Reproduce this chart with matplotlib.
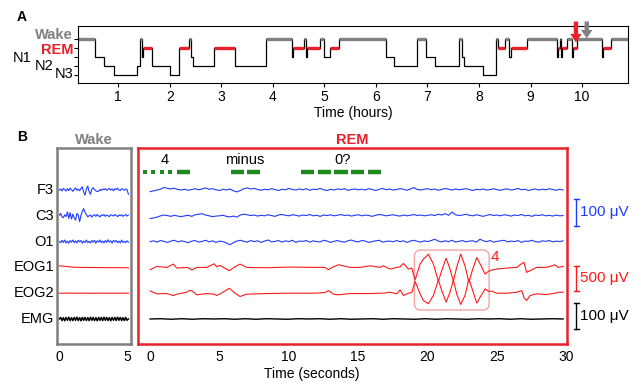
import numpy as np
import matplotlib.pyplot as plt
from matplotlib.patches import FancyBboxPatch, FancyArrow
from matplotlib.transforms import blended_transform_factory

plt.rcParams['font.family'] = ['Liberation Sans', 'DejaVu Sans']

GRAY = '#808080'
RED = '#e8212b'
BLUE = '#1f3cff'
TRACE_RED = '#ff1a1a'
GREEN = '#1e8a1e'

# ---- panel A : hypnogram (hours, stage starting at that time) ----
hyp_t = [0.22, 0.55, 0.73, 0.91, 1.36, 1.43, 1.46, 1.49, 1.65, 2.01, 2.18,
         2.38, 2.41, 2.45, 2.85, 3.27, 3.87, 4.37, 4.40, 4.61, 4.65, 4.67,
         4.91, 5.00, 5.11, 5.29, 6.20, 6.35, 6.79, 6.97, 7.15, 7.62, 7.67,
         7.71, 8.08, 8.33, 8.36, 8.51, 8.59, 8.62, 8.93, 9.52, 9.53, 9.57,
         9.59, 9.61, 9.70, 9.80, 9.82, 9.90, 10.38, 10.41, 10.57, 10.89]
hyp_stage = ['Wake', 'N1', 'N2', 'N3', 'N2', 'Wake', 'N1', 'REM', 'N2', 'N3',
             'REM', 'Wake', 'N1', 'N2', 'REM', 'N2', 'Wake', 'N1', 'REM',
             'Wake', 'N1', 'REM', 'Wake', 'N1', 'REM', 'Wake', 'N1', 'N2',
             'Wake', 'N1', 'N2', 'Wake', 'N1', 'N2', 'N3', 'Wake', 'REM',
             'Wake', 'N1', 'REM', 'Wake', 'N1', 'REM', 'Wake', 'N1', 'REM',
             'Wake', 'N1', 'REM', 'Wake', 'N1', 'REM', 'Wake']
stage_names = ['N3', 'N2', 'N1', 'REM', 'Wake']
hour_ticks = [1, 2, 3, 4, 5, 6, 7, 8, 9, 10]
arrow_hours = {'red': 9.88, 'gray': 10.09}

# ---- panel B : traces (uV) ----
f3_wake = [0, 4, -3, 6, 2, -4, 5, -2, 7, 1, -5, 3, 8, -1, 4, -3, 6, 12, -8,
           -19, 4, 15, -6, -16, 3, 9, 2, -3, -6, -4, 2, -2, 4, 1, 5, -1, 3,
           6, 0, 4, -3, 5, 2, 7, 0, -2, 5, 3, -1, 4, 2, -16]
c3_wake = [2, 9, -4, -7, 4, -3, 15, -10, 12, -12, 6, -8, -16, 9, 3, -22, 2,
           17, 27, 12, 5, -4, 0, 3, -5, 2, 4, -2, 5, 0, -4, 3, 1, 5, -2, 3,
           0, -3, 4, 2, -1, 5, 1, -3, 3, 0, 4, -2, 2, 5, -1, 3]
o1_wake = [0, -4, 5, -3, 6, -5, 2, -6, 4, -2, 6, -4, 3, -5, 5, -1, 4, -6, 2,
           -3, 6, -4, 1, -5, 4, -2, 5, -6, 3, -1, 6, -4, 2, -5, 4, -3, 7, -2,
           3, -6, 5, -1, 4, -4, 2, -5, 6, -3, 1, -4, 3, -2]
eog1_wake = [30, 20, 5, 0, -2, -3, -3, -5, -5, -6, -7]
eog2_wake = [0, 2, -1, 1, 0, -2, 1, 0, -1, 1, 0]
emg_wake = [0, 6, -6, 5, -7, 6, -5, 7, -6, 5, -6, 6, -5, 7, -6, 5,
            -7, 6, -5, 6, -6, 5, -6, 7, -5, 6, -6, 5, -7, 6, -5,
            6, -6, 7, -5, 6, -6, 5, -7, 6, -5, 6, -6, 7, -5, 6,
            -6, 5, -6, 6, -5, 0]

f3_rem = [-6, -3, 0, 3, 10, 6, 4, 7, 2, 0, 3, -1, 2, 5, 1, 4, 8, 3, 5, 1,
          -2, 3, 0, 4, -3, -7, -2, 5, 8, 4, 6, 2, -1, 3, 1, 5, 2, -2, 3, 1,
          6, 2, 0, 4, 1, 5, -1, 3, 2, 6, 1, -2, 3, 0, 4, 2, 5, -1, 2, 4,
          1, 3, 0, 5, 2, -2, 3, 6, 1, 4, 0, 2, 5, 3, -1, 4, 9, 2, 0, 3,
          5, 1, 4, -1, 2, 6, 3, 0, 4, 1, 3, 5, 2, -2, 3, 1, 4, 0, 2, 5,
          1, -1, 3, 4, 0, 2, 6, 1, 3, -2, 2, 4, 0, 3, 1, 5, 2, -1, 3, 0]
c3_rem = [-10, -8, -5, 0, 3, 1, -2, 2, -1, -3, 0, 2, -2, 4, 6, 8, 3, 0, -3, -1,
          0, 2, -2, -4, -1, -5, 3, 6, 4, 1, 3, -1, 2, 0, 4, 1, -2, 3, 5, 2,
          0, 4, 2, -1, 3, 1, 5, 0, 2, -2, 3, 1, 4, 0, 2, 5, 1, 3, -1, 2,
          4, 0, 3, 1, -2, 2, 5, 3, 0, 2, 4, 1, -1, 3, 0, 2, 5, 1, 3, 0,
          2, 4, 1, 6, 3, 8, 2, 14, 4, 1, 3, 6, 2, 0, 4, 1, -2, 2, 5, 1,
          3, 0, 4, 2, -1, 3, 1, 5, 0, 2, -2, 3, 1, 4, 0, 2, -1, 3, 0, 1]
o1_rem = [0, 3, -2, 4, 1, -3, 2, 5, -1, 3, 0, -4, 2, 4, -2, 1, 5, -1, 3, -3,
          2, 0, -5, -12, -4, 2, 5, 1, -2, 4, 0, 3, -3, 2, 6, -1, 1, 4, -2, 3,
          0, 5, -3, 2, 1, 4, -2, 3, 0, -1, 5, 2, -3, 1, 4, 0, -2, 3, 6, 1,
          -1, 4, 2, -3, 0, 3, 5, -2, 1, 2, -1, 4, 0, 3, -3, 2, 5, 1, -2, 3,
          0, 4, 9, 2, -1, 3, 0, 5, -2, 1, 4, -1, 2, 3, -2, 9, 3, 0, 4, -2,
          1, 3, 5, -1, 2, 0, 4, -3, 2, 1, 5, 0, -2, 3, 1, 4, -1, 2, 0, 3]
eog_t = [0.0, 0.48, 1.2, 1.68, 1.93, 2.65, 2.89, 3.01, 3.37, 4.09, 4.62, 4.81,
         5.05, 5.72, 6.13, 6.49, 6.97, 8.4, 10.1, 11.8, 12.63, 12.87, 13.23,
         13.59, 14.43, 15.15, 15.87, 16.6, 16.83, 17.31, 17.8, 18.04, 18.28,
         18.64, 18.88, 19.12, 19.48, 19.72, 20.08, 20.44, 20.8, 21.04, 21.36,
         21.64, 21.88, 22.12, 22.41, 22.72, 23.0, 23.28, 23.57, 23.88, 24.17,
         24.41, 24.65, 25.0, 25.74, 26.45, 26.82, 26.98, 27.17, 27.41, 27.89,
         28.61, 29.21, 29.45, 29.81]
eog1_rem = [-47, 20, 0, 67, -13, 0, -27, -53, 0, 0, 73, 13, 40, -67, 13, 67,
            0, -7, 7, 0, 0, -47, 13, 53, 0, 0, 33, 0, 33, -33, 0, 13, 80, -33,
            -13, -253, 67, 167, 267, 67, -280, -67, 187, -33, -280, 0, 267, 33,
            -300, -33, 200, 33, -133, -80, -53, -33, -13, 0, 80, 100, -100,
            -67, 0, 0, 53, 0, 20]
eog2_rem = [47, -13, -7, -47, -20, 20, 60, 47, -33, -7, -20, -47, -13, 100, 0,
            -67, -20, -7, 0, 0, 13, 53, -20, -33, -7, -7, -7, 0, 0, 20, -13, 67,
            -47, 0, 13, 240, -13, -147, -213, -47, 267, 53, -180, 20, 267, -13,
            -227, -47, 287, 53, -200, -47, 87, 40, 40, 0, 0, 20, 53, -93, -147,
            -47, -13, -27, 0, 20, 20]
emg_rem = [0, 1, -1, 1, -1, 1, 0, 1, -1, 1, -1, 1, 0, -1, 1, 0, 1, -1, 1, -1,
           0, 1, -1, 1, 0, -1, 1, -1, 1, 0, -1, 1, 0, 1, -1, 1, -1, 0, 1, 0]

channels = ['F3', 'C3', 'O1', 'EOG1', 'EOG2', 'EMG']
row = {'F3': 6, 'C3': 5, 'O1': 4, 'EOG1': 3, 'EOG2': 2, 'EMG': 1}
gain = {'eeg': 0.01035, 'eog': 0.00192, 'emg': 0.0101}   # rows per uV

morse = [('dot', -0.36), ('dot', 0.24), ('dot', 0.89), ('dot', 1.44),
         ('dash', 1.92, 2.89), ('dash', 5.82, 6.78), ('dash', 7.02, 7.94),
         ('dash', 10.9, 11.85), ('dash', 12.1, 13.06), ('dash', 13.3, 14.26),
         ('dash', 14.5, 15.46), ('dash', 15.7, 16.67)]
morse_words = [('4', 1.08), ('minus', 6.85), ('0?', 13.9)]

fig = plt.figure(figsize=(6.41, 3.91), dpi=100)

# ================= A =================
axA = fig.add_axes([0.1217, 0.7885, 0.858, 0.1458])
lev = [stage_names.index(s) for s in hyp_stage]
axA.step(hyp_t, lev + [lev[-1]], where='post', color='k', lw=0.9)
for i, s in enumerate(hyp_stage):
    if s == 'Wake':
        axA.plot([hyp_t[i], hyp_t[i + 1]], [4, 4], color=GRAY, lw=2.4,
                 solid_capstyle='butt')
    elif s == 'REM':
        axA.plot([hyp_t[i], hyp_t[i + 1]], [3, 3], color=RED, lw=2.4,
                 solid_capstyle='butt')
axA.set_xlim(0.22, 10.89)
axA.set_ylim(-0.88, 5.53)
axA.set_xticks(hour_ticks)
axA.set_yticks(range(5))
axA.set_yticklabels([])
axA.tick_params(labelsize=10, length=3, width=0.8, pad=2)
axA.set_xlabel('Time (hours)', fontsize=10, labelpad=2)
tr = blended_transform_factory(axA.transAxes, axA.transData)
ylabels = [('Wake', -0.009, 4.45, GRAY, 'bold'), ('REM', -0.009, 2.85, RED, 'bold'),
           ('N1', -0.084, 1.85, 'k', 'normal'), ('N2', -0.045, 1.0, 'k', 'normal'),
           ('N3', -0.009, 0.1, 'k', 'normal')]
for txt, x, y, c, w in ylabels:
    axA.text(x, y, txt, transform=tr, ha='right', va='center', color=c,
             fontweight=w, fontsize=10.5, clip_on=False)
# arrows (vertical, so width is in hours and head length in stage units)
for key, tip, col in [('red', 3.65, RED), ('gray', 4.1, GRAY)]:
    arr = FancyArrow(arrow_hours[key], 6.0, 0, tip - 6.0, width=0.085,
                     head_width=0.22, head_length=0.95, length_includes_head=True,
                     color=col, lw=0, clip_on=False, zorder=5)
    axA.add_patch(arr)
fig.text(22 / 641, 1 - 17 / 391, 'A', ha='center', va='center', fontweight='bold', fontsize=10)
fig.text(22 / 641, 1 - 137 / 391, 'B', ha='center', va='center', fontweight='bold', fontsize=10)

# ================= B =================
axW = fig.add_axes([0.0885, 0.1202, 0.1154, 0.5013])
axR = fig.add_axes([0.2153, 0.1202, 0.6697, 0.5013])


def draw_trace(ax, t, vals, ch, kind, color, lw=0.8):
    ax.plot(t, row[ch] + np.array(vals) * gain[kind], color=color, lw=lw)


def tgrid(vals, end):
    return np.linspace(0, end, len(vals))


draw_trace(axW, tgrid(f3_wake, 5.1), f3_wake, 'F3', 'eeg', BLUE)
draw_trace(axW, tgrid(c3_wake, 5.1), c3_wake, 'C3', 'eeg', BLUE)
draw_trace(axW, tgrid(o1_wake, 5.1), o1_wake, 'O1', 'eeg', BLUE)
draw_trace(axW, tgrid(eog1_wake, 5.1), eog1_wake, 'EOG1', 'eog', TRACE_RED)
draw_trace(axW, tgrid(eog2_wake, 5.1), eog2_wake, 'EOG2', 'eog', TRACE_RED)
draw_trace(axW, tgrid(emg_wake, 5.1), emg_wake, 'EMG', 'emg', 'k', lw=1.1)

draw_trace(axR, tgrid(f3_rem, 29.8), f3_rem, 'F3', 'eeg', BLUE)
draw_trace(axR, tgrid(c3_rem, 29.8), c3_rem, 'C3', 'eeg', BLUE)
draw_trace(axR, tgrid(o1_rem, 29.8), o1_rem, 'O1', 'eeg', BLUE)
draw_trace(axR, eog_t, eog1_rem, 'EOG1', 'eog', TRACE_RED)
draw_trace(axR, eog_t, eog2_rem, 'EOG2', 'eog', TRACE_RED)
draw_trace(axR, tgrid(emg_rem, 29.8), emg_rem, 'EMG', 'emg', 'k', lw=1.0)

for ax, col, title, xl, ticks in [(axW, GRAY, 'Wake', (-0.19, 5.27), [0, 5]),
                                  (axR, RED, 'REM', (-0.87, 30.1), range(0, 31, 5))]:
    ax.set_xlim(*xl)
    ax.set_ylim(0.03, 7.63)
    ax.set_yticks([])
    ax.set_xticks(list(ticks))
    ax.tick_params(length=0, labelsize=10, pad=4)
    for sp in ax.spines.values():
        sp.set_color(col)
        sp.set_linewidth(1.8)
    ax.set_title(title, color=col, fontweight='bold', fontsize=10.5, pad=3)

for ch in channels:
    axW.text(-0.4, row[ch], ch, ha='right', va='center', fontsize=10.5, clip_on=False)

# morse-like eye signals
for m in morse:
    if m[0] == 'dot':
        axR.plot(m[1], 6.69, 's', color=GREEN, ms=2.2, mew=0)
    else:
        axR.plot([m[1], m[2]], [6.69, 6.69], color=GREEN, lw=3.2, solid_capstyle='butt')
for w, x in morse_words:
    axR.text(x, 7.16, w, ha='center', va='center', fontsize=10.5)

# burst box
box = FancyBboxPatch((19.07, 1.35), 5.39, 2.32,
                     boxstyle='round,pad=0,rounding_size=0.45', mutation_aspect=0.54,
                     fc='none', ec='#f4a3a3', lw=1.0)
axR.add_patch(box)
axR.text(24.9, 3.41, '4', color=TRACE_RED, fontsize=11, ha='center', va='center')

# scale bars
bars = [(row['F3'] - 0.35, 100, 'eeg', BLUE, '100 μV'),
        (row['EOG1'] + 0.05, 500, 'eog', TRACE_RED, '500 μV'),
        (row['EMG'] + 0.61, 100, 'emg', 'k', '100 μV')]
for top, uv, kind, col, lab in bars:
    bot = top - uv * gain[kind]
    axR.plot([30.75, 30.75], [bot, top], color=col, lw=1.0, clip_on=False)
    for yy in (bot, top):
        axR.plot([30.55, 30.95], [yy, yy], color=col, lw=1.0, clip_on=False)
    axR.text(31.0, (top + bot) / 2, lab, color=col, fontsize=11, ha='left',
             va='center', clip_on=False)

fig.text(312 / 641, 1 - 374 / 391, 'Time (seconds)', ha='center', va='center', fontsize=10)

fig.savefig('out.png', dpi=100)
